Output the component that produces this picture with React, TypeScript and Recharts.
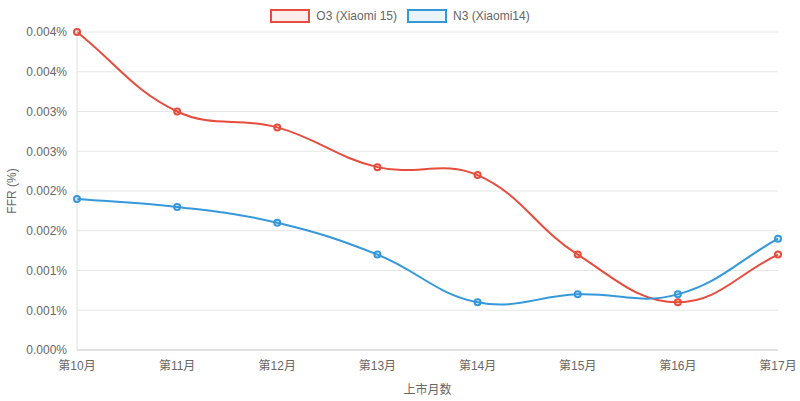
import { LineChart, Line, XAxis, YAxis, CartesianGrid } from 'recharts';

// 上市月数
const months = ['第10月', '第11月', '第12月', '第13月', '第14月', '第15月', '第16月', '第17月'];
// FFR (%) 读图估算
const o3Values = [0.004, 0.003, 0.0028, 0.0023, 0.0022, 0.0012, 0.0006, 0.0012];
const n3Values = [0.0019, 0.0018, 0.0016, 0.0012, 0.0006, 0.0007, 0.0007, 0.0014];
const yTicks = [0, 0.0005, 0.001, 0.0015, 0.002, 0.0025, 0.003, 0.0035, 0.004];

const series = [
  { key: 'o3', name: 'O3 (Xiaomi 15)', color: '#e74c3c', fill: 'rgba(231,76,60,0.1)' },
  { key: 'n3', name: 'N3 (Xiaomi14)', color: '#3498db', fill: 'rgba(52,152,219,0.1)' },
];

const data = months.map((m, i) => ({ month: m, o3: o3Values[i], n3: n3Values[i] }));

const FONT = "'Liberation Sans', Arial, 'Noto Sans CJK SC', sans-serif";

// chart.js 风格的样条曲线 (tension 0.4)
function splineCurve(context: any) {
  let pts: number[][] = [];
  const t = 0.4;
  return {
    areaStart() {},
    areaEnd() {},
    lineStart() { pts = []; },
    point(x: number, y: number) { pts.push([+x, +y]); },
    lineEnd() {
      const n = pts.length;
      if (!n) return;
      const cps = pts.map((cur, i) => {
        const prev = pts[i - 1] || cur;
        const next = pts[i + 1] || cur;
        const d01 = Math.hypot(cur[0] - prev[0], cur[1] - prev[1]);
        const d12 = Math.hypot(next[0] - cur[0], next[1] - cur[1]);
        let s01 = d01 / (d01 + d12);
        let s12 = d12 / (d01 + d12);
        if (isNaN(s01)) s01 = 0;
        if (isNaN(s12)) s12 = 0;
        const fa = t * s01;
        const fb = t * s12;
        return {
          p: [cur[0] - fa * (next[0] - prev[0]), cur[1] - fa * (next[1] - prev[1])],
          n: [cur[0] + fb * (next[0] - prev[0]), cur[1] + fb * (next[1] - prev[1])],
        };
      });
      context.moveTo(pts[0][0], pts[0][1]);
      for (let i = 1; i < n; i++) {
        context.bezierCurveTo(cps[i - 1].n[0], cps[i - 1].n[1], cps[i].p[0], cps[i].p[1], pts[i][0], pts[i][1]);
      }
    },
  };
}

function ChartLegend() {
  return (
    <div style={{ position: 'absolute', top: 9, left: 0, width: 800, display: 'flex', justifyContent: 'center', gap: 10, fontFamily: FONT, fontSize: 12, color: '#666' }}>
      {series.map((s) => (
        <div key={s.key} style={{ display: 'flex', alignItems: 'center' }}>
          <span style={{ display: 'inline-block', width: 36, height: 10, border: `2px solid ${s.color}`, background: s.fill, marginRight: 6 }} />
          <span>{s.name}</span>
        </div>
      ))}
    </div>
  );
}

export default function App() {
  return (
    <div style={{ position: 'absolute', top: 0, left: 0, width: 800, height: 401, background: '#fff' }}>
      <ChartLegend />
      <LineChart width={800} height={401} data={data} margin={{ top: 32, right: 22, bottom: 0, left: 0 }}>
        <CartesianGrid vertical={false} stroke="#e6e6e6" />
        <XAxis
          dataKey="month"
          height={51}
          tickLine={false}
          tickSize={0}
          tickMargin={11}
          axisLine={{ stroke: '#d0d0d0' }}
          tick={{ fill: '#666', fontSize: 12, fontFamily: FONT }}
          interval={0}
          label={{ value: '上市月数', position: 'insideBottom', offset: 7, fill: '#666', fontSize: 12, fontFamily: FONT }}
        />
        <YAxis
          width={77}
          domain={[0, 0.004]}
          ticks={yTicks}
          tickFormatter={(v: number) => `${v.toFixed(3)}%`}
          tickLine={false}
          tickSize={0}
          tickMargin={10}
          axisLine={{ stroke: '#e0e0e0' }}
          tick={{ fill: '#666', fontSize: 12, fontFamily: FONT }}
          label={({ viewBox }: any) => (
            <text
              x={12}
              y={viewBox.y + viewBox.height / 2}
              transform={`rotate(-90, 12, ${viewBox.y + viewBox.height / 2})`}
              textAnchor="middle"
              dominantBaseline="central"
              fill="#666"
              fontSize={12}
              fontFamily={FONT}
            >
              FFR (%)
            </text>
          )}
        />
        {series.map((s) => (
          <Line
            key={s.key}
            dataKey={s.key}
            name={s.name}
            type={splineCurve as any}
            stroke={s.color}
            strokeWidth={2}
            dot={{ r: 3, stroke: s.color, strokeWidth: 2, fill: s.fill }}
            activeDot={false}
            isAnimationActive={false}
          />
        ))}
      </LineChart>
    </div>
  );
}
